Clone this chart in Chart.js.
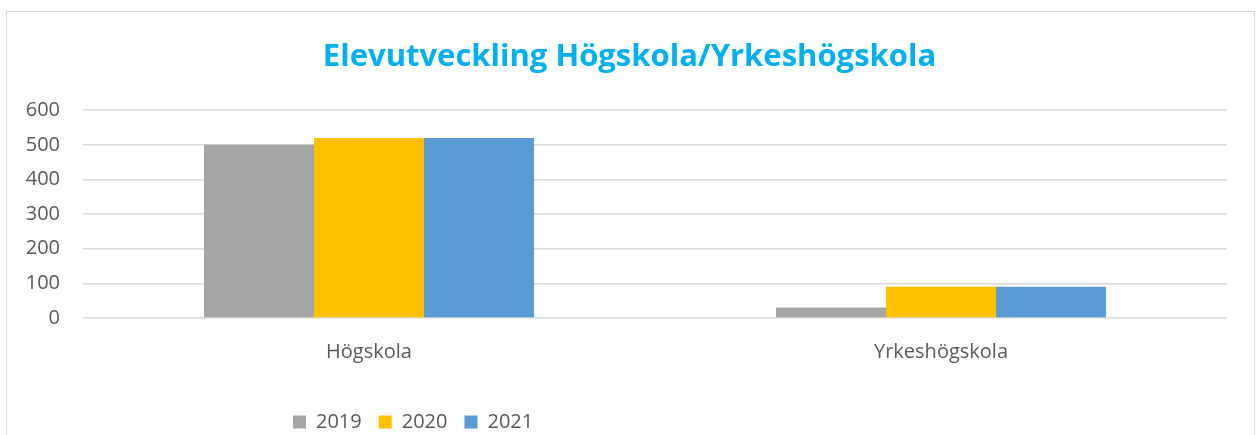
<!DOCTYPE html>
<html>
<head>
<meta charset="utf-8">
<script src="https://cdn.jsdelivr.net/npm/chart.js@4.4.1/dist/chart.umd.min.js"></script>
<style>
    html, body { margin: 0; padding: 0; background: #fff; overflow: hidden; }
    #wrap { position: relative; width: 1258px; height: 435px; }
    #frame { position: absolute; left: 6px; top: 11px; width: 1249px; height: 440px; border: 1px solid #d9d9d9; box-sizing: border-box; }
    #wrap canvas { position: absolute; left: 0; top: 0; }
</style>
</head>
<body>
<div id="wrap">
    <div id="frame"></div>
    <canvas id="elevChart" width="1258" height="435"></canvas>
</div>
<script>
// Data
const categories = ['Högskola', 'Yrkeshögskola'];
const years = ['2019', '2020', '2021'];
const values2019 = [500, 30];
const values2020 = [520, 90];
const values2021 = [520, 90];
const colors = ['#a5a5a5', '#ffc000', '#5b9bd5'];

const textColor = '#595959';
const fontFamily = '"Open Sans", "Liberation Sans", sans-serif';

// Justera titel och legend som i Excel-originalet (titeln centrerad på hela ramen, legenden till vänster)
const blockShift = {
    id: 'blockShift',
    afterLayout(chart) {
        const t = chart.titleBlock;
        if (t) { t.left += 16; t.right += 16; }
        const lg = chart.legend;
        if (!lg || !lg.lineWidths) return;
        const pad = lg.options.labels.padding;
        const startX = (lg.left + pad + lg.right - lg.lineWidths[0]) / 2;
        const dx = 293 - startX;
        const dy = 7;
        lg.left += dx; lg.right += dx;
        lg.top += dy; lg.bottom += dy;
    }
};

function renderElevChart(canvasId) {
    const canvas = document.getElementById(canvasId);
    if (!canvas) return;
    const seriesData = [values2019, values2020, values2021];
    try {
        new Chart(canvas, {
            type: 'bar',
            data: {
                labels: categories,
                datasets: years.map((y, i) => ({
                    label: y,
                    data: seriesData[i],
                    backgroundColor: colors[i],
                    borderWidth: 0,
                    categoryPercentage: 0.577,
                    barPercentage: 1.0
                }))
            },
            plugins: [blockShift],
            options: {
                responsive: false,
                animation: false,
                layout: { padding: { left: 0, right: 31, top: 0, bottom: 0 } },
                plugins: {
                    title: {
                        display: true,
                        text: 'Elevutveckling Högskola/Yrkeshögskola',
                        color: '#00b0f0',
                        font: { family: fontFamily, size: 31, weight: 'bold' },
                        padding: { top: 39, bottom: 34 }
                    },
                    legend: {
                        display: true,
                        position: 'bottom',
                        labels: {
                            color: textColor,
                            font: { family: fontFamily, size: 20 },
                            boxWidth: 13,
                            boxHeight: 13,
                            padding: 17
                        }
                    },
                    tooltip: { enabled: false }
                },
                scales: {
                    x: {
                        grid: { display: false, drawTicks: false },
                        border: { display: false },
                        ticks: { color: textColor, font: { family: fontFamily, size: 20 }, padding: 22 },
                        afterFit: s => { s.height = 70; }
                    },
                    y: {
                        min: 0,
                        max: 600,
                        ticks: { stepSize: 100, color: textColor, font: { family: fontFamily, size: 20 }, padding: 23 },
                        grid: { color: '#d9d9d9', lineWidth: 1.5, drawTicks: false },
                        border: { display: false },
                        afterFit: s => { s.width = 83; }
                    }
                }
            }
        });
    } catch (err) { console.error('Error rendering chart:', err); }
}

renderElevChart('elevChart');
</script>
</body>
</html>
